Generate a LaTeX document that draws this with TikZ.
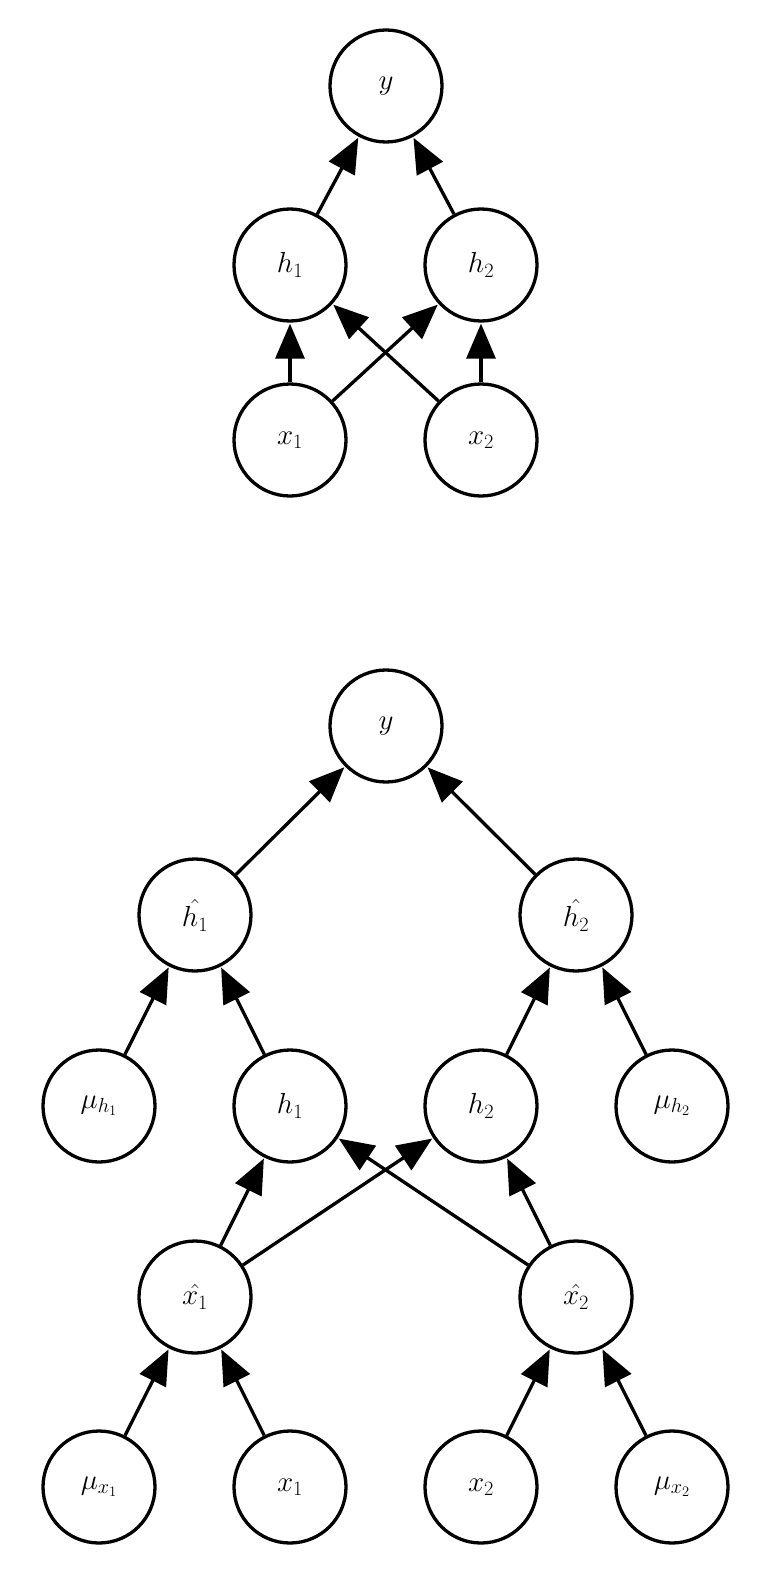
\RequirePackage{fix-cm}
\documentclass[tikz,border=0pt]{standalone}
\usetikzlibrary{arrows.meta}
\begin{document}
\begin{tikzpicture}[x=1pt,y=-1pt,
  nd/.style={circle,draw,line width=3.3pt,minimum size=112pt,inner sep=0pt,font=\fontsize{29}{34}\selectfont},
  ar/.style={line width=3.3pt,-{Triangle[length=35pt,width=29pt]},shorten >=1pt}]
\useasboundingbox (0,0) rectangle (778,1570);
% top
\node[nd] (ty) at (386,86) {$y$};
\node[nd] (th1) at (290,265) {$h_1$};
\node[nd] (th2) at (481,265) {$h_2$};
\node[nd] (tx1) at (290,440) {$x_1$};
\node[nd] (tx2) at (481,440) {$x_2$};
\draw[ar] (th1) -- (ty);
\draw[ar] (th2) -- (ty);
\draw[ar] (tx1) -- (th1);
\draw[ar] (tx1) -- (th2);
\draw[ar] (tx2) -- (th1);
\draw[ar] (tx2) -- (th2);
% bottom
\node[nd] (by) at (386,726) {$y$};
\node[nd] (hh1) at (195,915) {$\hat{h_1}$};
\node[nd] (hh2) at (576,915) {$\hat{h_2}$};
\node[nd] (muh1) at (99,1106) {$\mu_{h_1}$};
\node[nd] (bh1) at (290,1106) {$h_1$};
\node[nd] (bh2) at (481,1106) {$h_2$};
\node[nd] (muh2) at (672,1106) {$\mu_{h_2}$};
\node[nd] (xh1) at (195,1297) {$\hat{x_1}$};
\node[nd] (xh2) at (576,1297) {$\hat{x_2}$};
\node[nd] (mux1) at (99,1487) {$\mu_{x_1}$};
\node[nd] (bx1) at (290,1487) {$x_1$};
\node[nd] (bx2) at (481,1487) {$x_2$};
\node[nd] (mux2) at (672,1487) {$\mu_{x_2}$};
\draw[ar] (hh1) -- (by);
\draw[ar] (hh2) -- (by);
\draw[ar] (muh1) -- (hh1);
\draw[ar] (bh1) -- (hh1);
\draw[ar] (bh2) -- (hh2);
\draw[ar] (muh2) -- (hh2);
\draw[ar] (xh1) -- (bh1);
\draw[ar] (xh1) -- (bh2);
\draw[ar] (xh2) -- (bh1);
\draw[ar] (xh2) -- (bh2);
\draw[ar] (mux1) -- (xh1);
\draw[ar] (bx1) -- (xh1);
\draw[ar] (bx2) -- (xh2);
\draw[ar] (mux2) -- (xh2);
\end{tikzpicture}
\end{document}
